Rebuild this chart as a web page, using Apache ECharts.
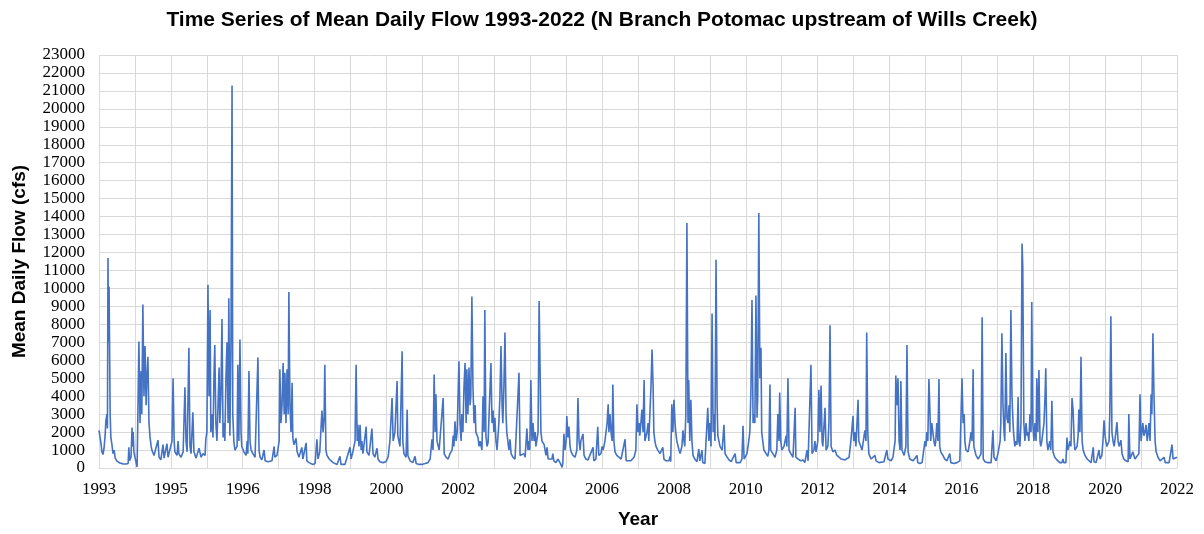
<!DOCTYPE html>
<html lang="en">
<head>
<meta charset="UTF-8">
<title>Mean Daily Flow 1993-2022</title>
<script src="https://cdn.jsdelivr.net/npm/echarts@6/dist/echarts.min.js"></script>
<style>
    html, body { margin: 0; padding: 0; background: #fff; }
    #chart { width: 1204px; height: 534px; }
</style>
</head>
<body>
<div id="chart"></div>
<script>
    // readings taken off the chart: decimal year and mean daily flow (cfs)
    const flowDates = [
        1993.00,1993.03,1993.06,1993.08,1993.11,1993.14,1993.17,1993.19,1993.22,1993.235,1993.25,1993.265,1993.28,1993.31,1993.33,1993.36,1993.39,1993.42,1993.45,1993.50,1993.58,1993.67,1993.75,1993.81,1993.83,1993.85,1993.89,1993.92,1993.93,1993.95,1993.97,
        1994.00,1994.03,1994.06,1994.07,1994.08,1994.11,1994.14,1994.17,1994.19,1994.22,1994.25,1994.28,1994.31,1994.33,1994.36,1994.39,1994.42,1994.45,1994.47,1994.53,1994.58,1994.64,1994.67,1994.72,1994.78,1994.81,1994.86,1994.89,1994.92,1994.97,
        1995.03,1995.06,1995.09,1995.11,1995.17,1995.20,1995.22,1995.28,1995.34,1995.39,1995.42,1995.45,1995.50,1995.53,1995.56,1995.61,1995.64,1995.70,1995.75,1995.78,1995.84,1995.89,1995.95,1995.97,
        1996.00,1996.03,1996.06,1996.09,1996.11,1996.14,1996.17,1996.20,1996.22,1996.25,1996.28,1996.31,1996.34,1996.36,1996.39,1996.42,1996.45,1996.48,1996.50,1996.53,1996.56,1996.59,1996.61,1996.64,1996.67,1996.70,1996.72,1996.75,1996.78,1996.81,1996.84,1996.86,1996.89,1996.92,1996.95,1996.97,
        1997.03,1997.09,1997.12,1997.14,1997.17,1997.20,1997.23,1997.28,1997.34,1997.39,1997.42,1997.45,1997.48,1997.53,1997.59,1997.62,1997.70,1997.75,1997.81,1997.87,1997.89,1997.95,
        1998.01,1998.03,1998.06,1998.09,1998.12,1998.15,1998.17,1998.20,1998.23,1998.26,1998.28,1998.31,1998.34,1998.37,1998.39,1998.42,1998.48,1998.51,1998.56,1998.64,1998.67,1998.76,1998.78,1998.84,1998.89,1998.95,
        1999.01,1999.06,1999.09,1999.14,1999.20,1999.23,1999.26,1999.28,1999.31,1999.34,1999.40,1999.45,1999.51,1999.56,1999.62,1999.67,1999.70,1999.73,1999.78,1999.84,1999.89,1999.98,
        2000.01,2000.06,2000.12,2000.15,2000.18,2000.20,2000.23,2000.26,2000.29,2000.31,2000.34,2000.43,2000.45,2000.51,2000.59,2000.62,2000.67,2000.73,2000.76,2000.81,2000.90,2000.98,
        2001.04,2001.09,2001.15,2001.18,2001.23,2001.29,2001.31,2001.37,2001.43,2001.45,2001.48,2001.54,2001.57,2001.59,2001.65,2001.73,2001.79,2001.82,2001.90,2001.98,
        2002.07,2002.15,2002.21,2002.26,2002.29,2002.32,2002.35,2002.37,2002.40,2002.46,2002.51,2002.57,2002.60,2002.65,2002.71,2002.76,2002.82,2002.85,2002.87,2002.90,2002.93,2002.96,
        2003.01,2003.04,2003.07,2003.09,2003.12,2003.15,2003.18,2003.21,2003.23,2003.26,2003.29,2003.32,2003.34,2003.37,2003.40,2003.43,2003.46,2003.48,2003.54,2003.57,2003.60,2003.65,2003.68,2003.71,2003.73,2003.76,2003.79,2003.82,2003.87,2003.90,2003.93,2003.96,2003.98,
        2004.01,2004.04,2004.07,2004.12,2004.15,2004.18,2004.21,2004.23,2004.26,2004.29,2004.32,2004.34,2004.37,2004.40,2004.43,2004.46,2004.51,2004.57,2004.62,2004.68,2004.71,2004.76,2004.82,2004.85,2004.90,2004.93,2004.96,2004.98,
        2005.01,2005.04,2005.07,2005.10,2005.13,2005.15,2005.21,2005.24,2005.26,2005.29,2005.32,2005.38,2005.43,2005.46,2005.49,2005.54,2005.60,2005.62,2005.65,2005.71,2005.76,2005.82,2005.85,2005.88,2005.90,2005.93,2005.96,2005.99,
        2006.01,2006.04,2006.07,2006.10,2006.13,2006.18,2006.24,2006.29,2006.32,2006.35,2006.38,2006.40,2006.46,2006.49,2006.54,2006.60,2006.65,2006.74,2006.76,2006.82,2006.87,2006.90,2006.96,2006.99,
        2007.02,2007.07,2007.13,2007.16,2007.18,2007.21,2007.24,2007.27,2007.29,2007.32,2007.35,2007.40,2007.46,2007.52,2007.57,2007.63,2007.66,2007.71,2007.79,2007.88,2007.93,2007.96,2007.99,
        2008.02,2008.04,2008.07,2008.10,2008.13,2008.16,2008.18,2008.24,2008.27,2008.29,2008.35,2008.38,2008.41,2008.43,2008.46,2008.49,2008.54,2008.60,2008.65,2008.68,2008.71,2008.77,2008.85,2008.88,2008.90,2008.93,2008.96,2008.99,
        2009.02,2009.04,2009.07,2009.10,2009.13,2009.16,2009.21,2009.24,2009.27,2009.29,2009.32,2009.35,2009.38,2009.40,2009.43,2009.46,2009.49,2009.52,2009.57,2009.63,2009.68,2009.71,2009.77,2009.79,2009.85,2009.90,2009.93,2009.96,2009.99,
        2010.02,2010.05,2010.08,2010.10,2010.13,2010.16,2010.19,2010.21,2010.27,2010.33,2010.38,2010.41,2010.47,2010.52,2010.58,2010.63,2010.69,2010.72,2010.77,2010.83,2010.88,2010.91,2010.94,2010.99,
        2011.02,2011.07,2011.10,2011.13,2011.16,2011.19,2011.21,2011.24,2011.27,2011.30,2011.32,2011.35,2011.38,2011.41,2011.43,2011.46,2011.49,2011.54,2011.60,2011.63,2011.66,2011.68,2011.74,2011.80,2011.85,2011.88,2011.91,2011.93,2011.96,2011.99,
        2012.05,2012.11,2012.13,2012.16,2012.19,2012.24,2012.30,2012.36,2012.38,2012.44,2012.52,2012.58,2012.63,2012.69,2012.72,2012.77,2012.80,2012.83,2012.88,2012.91,2012.94,2012.99,
        2013.02,2013.05,2013.08,2013.11,2013.13,2013.19,2013.22,2013.27,2013.30,2013.33,2013.36,2013.41,2013.47,2013.52,2013.58,2013.64,2013.69,2013.75,2013.80,2013.86,2013.91,2013.97,2013.99,
        2014.02,2014.05,2014.11,2014.13,2014.16,2014.22,2014.24,2014.30,2014.33,2014.35,2014.38,2014.41,2014.47,2014.52,2014.58,2014.61,2014.69,2014.74,2014.83,2014.91,2014.94,2014.97,
        2015.03,2015.08,2015.14,2015.16,2015.19,2015.22,2015.25,2015.28,2015.30,2015.33,2015.39,2015.44,2015.47,2015.50,2015.55,2015.64,2015.69,2015.75,2015.77,2015.83,2015.89,2015.94,2015.97,
        2016.00,2016.02,2016.05,2016.08,2016.11,2016.13,2016.16,2016.19,2016.22,2016.25,2016.27,2016.30,2016.33,2016.36,2016.38,2016.41,2016.47,2016.52,2016.58,2016.63,2016.66,2016.69,2016.77,2016.86,2016.94,
        2017.00,2017.03,2017.06,2017.08,2017.11,2017.17,2017.22,2017.25,2017.28,2017.31,2017.33,2017.39,2017.45,2017.50,2017.53,2017.56,2017.59,2017.64,2017.70,2017.75,2017.81,2017.86,2017.89,2017.95,2017.97,
        2018.00,2018.06,2018.08,2018.11,2018.14,2018.17,2018.19,2018.22,2018.25,2018.28,2018.31,2018.33,2018.36,2018.39,2018.42,2018.44,2018.47,2018.50,2018.53,2018.56,2018.58,2018.61,2018.64,2018.67,2018.69,2018.72,2018.75,2018.78,2018.81,2018.83,2018.86,2018.89,2018.92,2018.94,2018.97,
        2019.00,2019.03,2019.06,2019.08,2019.11,2019.14,2019.17,2019.19,2019.22,2019.25,2019.28,2019.31,2019.33,2019.36,2019.39,2019.44,2019.47,2019.50,2019.53,2019.58,2019.64,2019.72,2019.78,2019.81,2019.83,2019.89,2019.92,2019.94,2019.97,
        2020.00,2020.03,2020.06,2020.09,2020.12,2020.14,2020.20,2020.23,2020.25,2020.28,2020.31,2020.34,2020.37,2020.42,2020.48,2020.53,2020.59,2020.65,2020.67,2020.73,2020.78,2020.81,2020.84,2020.89,2020.92,2020.95,2020.98,
        2021.00,2021.03,2021.09,2021.11,2021.14,2021.17,2021.20,2021.23,2021.25,2021.28,2021.31,2021.34,2021.37,2021.42,2021.45,2021.50,2021.56,2021.62,2021.64,2021.67,2021.72,2021.75,2021.81,2021.86,2021.92,2021.95,2021.98,
        2022.01,2022.03,2022.06,2022.09,2022.12,2022.15,2022.17,2022.20,2022.23,2022.26,2022.28,2022.31,2022.34,2022.37,2022.40,2022.45,2022.51,2022.56,2022.62,2022.65,2022.70,2022.76,2022.81,2022.84,2022.87,2022.92,2022.98
    ];
    const flowCfs = [
        2100,2000,1300,900,750,1100,1800,2600,3000,2200,11700,7000,10100,3000,1700,1300,800,1000,550,380,280,230,220,250,1150,400,600,2250,1200,2000,900,
        600,700,50,1500,2800,7050,2500,5400,3000,9100,4000,6800,3500,5000,6200,2500,1700,1200,1000,700,600,1550,600,450,1300,550,500,1350,600,700,
        1500,5000,1500,900,700,1500,800,600,900,4500,1500,900,6700,1200,800,3100,900,550,600,1100,600,800,700,1600,
        2000,10200,4000,8800,2000,3000,1700,5400,6850,2500,1500,3500,5600,2500,4000,8300,1700,2500,1500,5000,7000,2500,9450,1800,7000,21300,3000,1500,1000,900,1200,5750,1500,7150,2000,1200,
        900,700,1500,800,5400,1500,1000,800,600,700,6150,1000,600,450,1000,400,350,300,400,1200,600,700,
        1500,5500,2500,3500,5850,3000,5300,2500,5500,3000,9800,3500,2000,4750,1700,1300,1650,900,600,1150,500,1400,400,300,250,200,
        250,1600,500,900,3200,2000,2800,5750,1000,700,500,400,300,250,200,150,650,200,150,200,300,1150,
        500,900,1500,5750,1500,2400,1200,2400,1000,1500,800,2300,900,700,2200,800,600,1100,500,350,300,350,
        600,1500,3900,1500,2000,4850,1800,1200,6500,1500,800,600,3250,700,400,300,650,250,200,200,
        250,300,500,1600,1000,5200,2000,4100,1500,1000,900,3900,800,600,500,800,1000,1800,1200,2600,1500,2000,
        5950,2500,1500,3000,2000,4500,5850,2500,5500,3000,5600,3500,4000,9550,4500,2500,3500,2000,1700,1200,1500,1000,4000,2000,8800,1800,1200,1400,1300,5850,2500,3200,2000,
        2800,1500,1000,2500,4000,6800,3500,2500,4500,7550,3000,2000,1500,1000,1600,800,600,500,600,5300,700,600,800,600,2200,1000,1500,1000,
        4900,1500,2500,1500,2000,1200,2000,9300,6500,2000,1500,1300,700,1150,500,400,500,800,400,300,500,300,200,30,300,1900,1000,1500,
        2900,1700,2300,1200,900,700,600,1000,3900,1500,1000,1500,1900,700,500,450,500,1150,400,500,2300,700,800,1200,
        1000,1500,2500,3550,2000,3000,2000,1500,4650,1500,900,700,600,500,400,1600,400,350,400,600,1000,3550,2000,
        2500,1800,2500,3250,2000,4900,1500,2000,2500,1500,4500,6600,4500,2000,1500,1200,1000,800,700,1150,500,400,400,650,350,3550,2000,3800,
        2500,2000,1500,1500,1000,800,1200,2100,1500,1200,3000,13650,2500,4900,1500,3800,1500,700,500,350,1050,400,1000,300,250,300,3350,1500,2500,
        1200,8600,2000,3000,1500,11600,3500,1800,1200,1000,2400,800,600,450,350,400,800,300,250,300,500,2350,500,400,
        800,1500,2000,4300,9350,2500,3000,2500,9600,2800,4000,14200,5000,6700,2000,1500,1000,900,650,1000,4650,1000,800,600,1000,3000,1500,4200,1500,1000,
        1200,1800,1200,5000,1000,800,600,3350,600,500,400,450,300,1000,400,500,5750,800,1000,1500,900,1500,
        4350,2000,4600,1500,1200,3350,1000,1200,2500,7950,1200,900,1000,700,600,500,500,450,400,600,1500,2900,1500,
        2000,1200,3800,1500,1600,1000,900,2100,1500,7550,2000,800,500,400,700,400,300,400,350,1000,500,600,
        400,600,1500,5150,3500,5000,1500,1000,4850,1000,700,1200,6850,900,500,400,300,700,300,250,300,400,1500,
        1200,2000,1500,4950,3000,1500,2500,2000,1500,1200,1500,2500,1500,4950,1200,900,700,500,400,350,800,300,250,300,400,
        5000,2500,3000,1500,1000,900,1500,2000,1500,5500,1200,700,500,400,800,8400,500,350,300,400,300,2100,600,400,500,
        800,1500,2500,7500,3500,2000,1500,6400,2800,2500,3500,2000,8800,4000,2500,1800,1200,1500,1300,3950,1500,1200,2500,12500,11200,2500,1500,2500,1800,2000,1500,3000,2000,9250,2500,
        1500,2500,1500,5000,2000,5450,1500,1200,1500,2000,2500,4000,5550,1500,1000,1500,1000,3750,900,600,450,300,300,500,300,300,1700,1000,1200,
        1500,1200,3900,3200,1500,1000,1200,1800,3250,2000,6200,1500,1000,700,500,400,300,1150,350,300,400,1000,500,700,1500,2650,1800,
        1500,1200,1500,3000,8450,2000,1500,1200,1500,2000,2550,1500,1200,1550,800,500,400,350,3000,500,600,900,500,400,800,4100,1500,
        1500,2500,1800,2000,2400,1500,1800,2500,1500,4100,3000,7500,4000,1500,900,600,400,350,600,300,300,300,400,1300,500,400,600
    ];

    const firstYear = 1993;
    const axisDays = 10950;   // axis runs 1993-01-01 plus 15 label steps of 730 days
    const gridDays = 365;
    const flowMax = 23000;
    const flowStep = 1000;

    const chart = echarts.init(document.getElementById('chart'));

    // x axis is in days since 1 Jan 1993
    const toDays = yr => (yr - firstYear) * 365.25;
    const points = flowDates.map((d, i) => [toDays(d), flowCfs[i]]);
    const yearOf = days => new Date(Date.UTC(firstYear, 0, 1) + days * 86400000).getUTCFullYear();

    const option = {
        animation: false,
        backgroundColor: '#fff',
        title: {
            text: 'Time Series of Mean Daily Flow 1993-2022 (N Branch Potomac upstream of Wills Creek)',
            left: 'center',
            top: 5,
            textStyle: { fontFamily: 'Liberation Sans', fontWeight: 'bold', fontSize: 21, color: '#000' }
        },
        grid: { left: 99, right: 27, top: 55, bottom: 63 },
        xAxis: {
            type: 'value',
            min: 0,
            max: axisDays,
            interval: gridDays,
            name: 'Year',
            nameLocation: 'middle',
            nameGap: 42,
            nameTextStyle: { fontFamily: 'Liberation Sans', fontWeight: 'bold', fontSize: 19, color: '#000' },
            axisLine: { show: true, lineStyle: { color: '#d9d9d9' } },
            axisTick: { show: false },
            axisLabel: {
                fontFamily: 'Liberation Serif',
                fontSize: 17,
                color: '#000',
                margin: 13,
                // labels every other gridline, like the spreadsheet (every 730 days)
                formatter: v => (Math.round(v / gridDays) % 2 === 0 ? String(yearOf(v)) : '')
            },
            splitLine: { show: true, lineStyle: { color: '#d9d9d9', width: 1 } }
        },
        yAxis: {
            type: 'value',
            min: 0,
            max: flowMax,
            interval: flowStep,
            name: 'Mean Daily Flow (cfs)',
            nameLocation: 'middle',
            nameGap: 70,
            nameTextStyle: { fontFamily: 'Liberation Sans', fontWeight: 'bold', fontSize: 19, color: '#000' },
            axisLine: { show: false },
            axisTick: { show: false },
            axisLabel: {
                fontFamily: 'Liberation Serif',
                fontSize: 17,
                color: '#000',
                margin: 14,
                formatter: v => String(v)
            },
            splitLine: { show: true, lineStyle: { color: '#d9d9d9', width: 1 } }
        },
        series: [{
            type: 'line',
            data: points,
            showSymbol: false,
            lineStyle: { color: '#4472C4', width: 1.6 },
            z: 3
        }]
    };
    chart.setOption(option);
</script>
</body>
</html>
